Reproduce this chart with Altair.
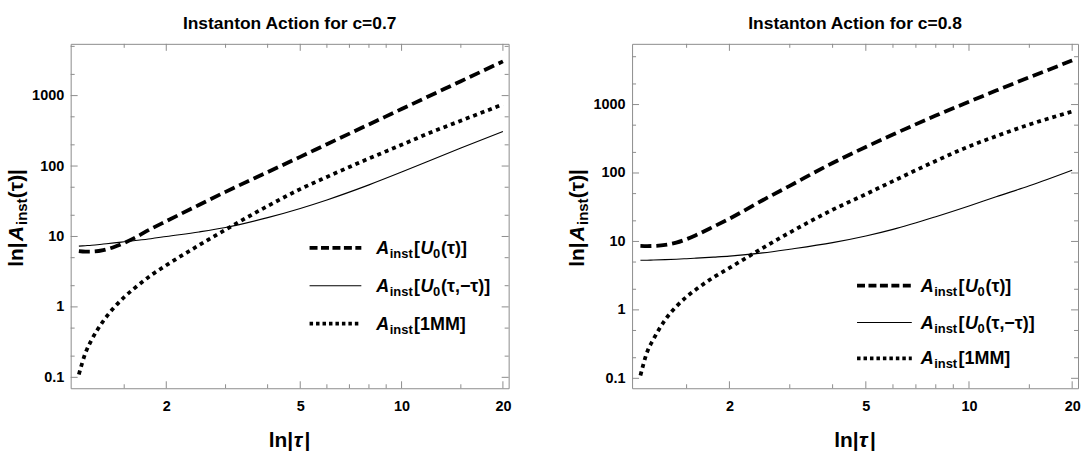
import altair as alt
import pandas as pd

FONT = "Liberation Sans, Arial, sans-serif"
GRAY = "#8c8c8c"

# ---------------- data ----------------
tau = [1.1, 1.15, 1.2, 1.3, 1.4, 1.5, 1.6, 1.8, 2.0, 2.5, 3.0, 4.0, 5.0, 6.0, 8.0, 10.0, 12.0, 15.0, 20.0]

u0_c07 = [6.2, 6.1, 6.1, 6.4, 7.1, 8.1, 9.4, 12.8, 16.5, 28, 43, 82, 135, 204, 390, 644, 971, 1600, 3060]
u0pm_c07 = [7.3, 7.4, 7.5, 7.8, 8.1, 8.4, 8.7, 9.3, 10.0, 11.6, 13.4, 18.5, 25, 33, 54, 82, 117, 180, 310]
mm1_c07 = [0.11, 0.22, 0.34, 0.63, 0.98, 1.38, 1.8, 2.8, 3.9, 7.5, 12.5, 27, 47, 70, 128, 200, 290, 440, 750]

u0_c08 = [8.6, 8.55, 8.6, 8.9, 9.6, 10.8, 12.4, 16.5, 21.5, 40, 65, 140, 240, 365, 690, 1100, 1600, 2500, 4400]
u0pm_c08 = [5.3, 5.32, 5.35, 5.42, 5.5, 5.6, 5.7, 5.9, 6.1, 6.8, 7.7, 9.6, 12, 15, 23, 33, 45, 65, 110]
mm1_c08 = [0.11, 0.24, 0.37, 0.72, 1.12, 1.55, 2.0, 3.0, 4.1, 8.0, 13.5, 29, 49, 76, 150, 245, 345, 510, 790]

x_major = [2, 5, 10, 20]
x_minor = [1.5, 3, 4, 6, 7, 8, 9, 15]
y_major = [0.1, 1, 10, 100, 1000]
y_minor = [0.2, 0.5, 2, 5, 20, 50, 200, 500, 2000, 5000]

x_domain = [1.04, 20.8]
y_domain_c07 = [0.07, 5430]
y_domain_c08 = [0.0716, 7710]

series_names = ["u0", "u0pm", "mm1"]


def one_row():
    return alt.Chart(alt.Data(values=[{"k": 0}]))


def piece(text, x, y, size, italic=False, angle=0):
    kw = dict(text=text, font=FONT, fontSize=size, fontWeight="bold",
              fontStyle="italic" if italic else "normal", color="black",
              align="left", baseline="alphabetic")
    if angle:
        kw["angle"] = angle
    return one_row().mark_text(**kw).encode(x=alt.value(x), y=alt.value(y))


def label(x0, y0, tail):
    parts = [piece("A", x0, y0, 18, True), piece("inst", x0 + 13.5, y0 + 4, 13)]
    if tail == "1MM":
        parts.append(piece("[1MM]", x0 + 38, y0, 18))
    else:
        parts += [piece("[", x0 + 38, y0, 18), piece("U", x0 + 44.5, y0, 18, True),
                  piece("0", x0 + 57, y0 + 4, 13), piece(tail, x0 + 65, y0, 18)]
    return parts


def panel(title, ys, ydom, W, H, lx0, lx1, ltx, rows):
    n = len(tau)
    df = pd.DataFrame({
        "tau": tau * 3,
        "A": ys[0] + ys[1] + ys[2],
        "series": sum([[s] * n for s in series_names], []),
    })
    xs = alt.Scale(type="log", domain=x_domain, nice=False)
    yscale = alt.Scale(type="log", domain=ydom, nice=False)
    xaxis = alt.Axis(values=x_major, format="~g", ticks=False, domain=False, grid=False,
                     labelFont=FONT, labelFontSize=14.5, labelFontWeight="bold",
                     labelColor="black", labelPadding=11)
    yaxis = alt.Axis(values=y_major, format="~g", ticks=False, domain=False, grid=False,
                     labelFont=FONT, labelFontSize=14.5, labelFontWeight="bold",
                     labelColor="black", labelPadding=7)
    styles = {
        "u0": dict(strokeDash=[11, 5], strokeWidth=3.8),
        "u0pm": dict(strokeWidth=1.1),
        "mm1": dict(strokeDash=[4, 4], strokeWidth=3.8),
    }
    layers = []
    for s in ["u0pm", "mm1", "u0"]:
        layers.append(
            alt.Chart(df).transform_filter(alt.datum.series == s)
            .mark_line(color="black", interpolate="monotone", strokeCap="butt", **styles[s])
            .encode(x=alt.X("tau:Q", scale=xs, axis=xaxis, title=None),
                    y=alt.Y("A:Q", scale=yscale, axis=yaxis, title=None))
        )
    # inward frame ticks (share the same axes definitions)
    for vals, L in [(x_major, 7), (x_minor, 4)]:
        d = pd.DataFrame({"tau": vals})
        xe = alt.X("tau:Q", scale=xs, axis=xaxis, title=None)
        layers.append(alt.Chart(d).mark_rule(color=GRAY).encode(x=xe, y=alt.value(H), y2=alt.value(H - L)))
        layers.append(alt.Chart(d).mark_rule(color=GRAY).encode(x=xe, y=alt.value(0), y2=alt.value(L)))
    for vals, L in [(y_major, 7), (y_minor, 4)]:
        d = pd.DataFrame({"A": [v for v in vals if ydom[0] <= v <= ydom[1]]})
        ye = alt.Y("A:Q", scale=yscale, axis=yaxis, title=None)
        layers.append(alt.Chart(d).mark_rule(color=GRAY).encode(y=ye, x=alt.value(0), x2=alt.value(L)))
        layers.append(alt.Chart(d).mark_rule(color=GRAY).encode(y=ye, x=alt.value(W), x2=alt.value(W - L)))
    # legend
    samples = [dict(strokeDash=[8, 3.5], strokeWidth=3.8), dict(strokeWidth=1.1),
               dict(strokeDash=[3.5, 3], strokeWidth=3.8)]
    tails = ["(τ)]", "(τ,−τ)]", "1MM"]
    for r, smp, tl in zip(rows, samples, tails):
        layers.append(one_row().mark_rule(color="black", strokeCap="butt", **smp)
                      .encode(x=alt.value(lx0), x2=alt.value(lx1), y=alt.value(r)))
        layers += label(ltx, r + 6, tl)
    # rotated y title  ln|A_inst(τ)|
    bx = -48
    y0 = 224
    layers += [
        piece("ln|", bx, y0, 21, angle=270),
        piece("A", bx, y0 - 26, 21, True, angle=270),
        piece("inst", bx + 4, y0 - 42, 15, angle=270),
        piece("(τ)|", bx, y0 - 69, 21, angle=270),
    ]
    # x title  ln|τ|  (τ in italics)
    tx = W / 2 - 21
    ty = H + 59
    layers += [
        piece("ln|", tx, ty, 21),
        piece("τ", tx + 25, ty, 21, True),
        piece("|", tx + 36, ty, 21),
    ]
    return alt.layer(*layers).properties(
        width=W, height=H,
        title=alt.TitleParams(title, font=FONT, fontSize=17.5, fontWeight="bold",
                              color="black", anchor="middle", offset=11),
    )


left = panel("Instanton Action for c=0.7", [u0_c07, u0pm_c07, mm1_c07], y_domain_c07,
             440, 346, 240, 292, 307, [205, 243, 281])
right = panel("Instanton Action for c=0.8", [u0_c08, u0pm_c08, mm1_c08], y_domain_c08,
              448, 346, 226, 281, 290, [243, 280, 316])

chart = alt.hconcat(left, right, spacing=55).properties(
    padding={"left": 5, "top": 13, "right": 0, "bottom": 0}
).configure_view(stroke=GRAY, strokeWidth=1)

chart.save("out.html", embed_options={"renderer": "svg", "actions": False})
